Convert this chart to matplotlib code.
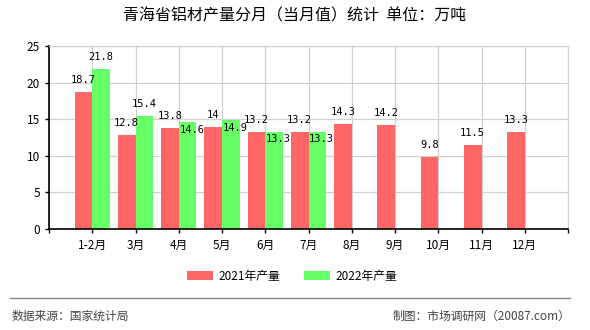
import matplotlib.pyplot as plt
import numpy as np
from matplotlib.lines import Line2D

plt.rcParams['font.family'] = ['Noto Sans CJK SC', 'DejaVu Sans']

months = ["1-2月", "3月", "4月", "5月", "6月", "7月", "8月", "9月", "10月", "11月", "12月"]
output_2021 = [18.7, 12.8, 13.8, 14, 13.2, 13.2, 14.3, 14.2, 9.8, 11.5, 13.3]
output_2022 = [21.8, 15.4, 14.6, 14.9, 13.3, 13.3]
# 2022 labels that sit inside the bar top in the original
inside_2022 = [False, False, True, True, True, True]

red = "#ff6666"
green = "#66ff66"

fig = plt.figure(figsize=(5.9, 3.3), dpi=100)
ax = fig.add_axes([49 / 590, 101 / 330, 519 / 590, 183 / 330])

x = np.arange(1, len(months) + 1)
w = 0.41
ax.bar(x - w / 2, output_2021, w, color=red, label="2021年产量", zorder=2)
x22 = x[:len(output_2022)]
ax.bar(x22 + w / 2, output_2022, w, color=green, label="2022年产量", zorder=2)

lbl = dict(fontsize=7.5, family=['DejaVu Sans Mono', 'DejaVu Sans'], ha='center', zorder=3)
for xi, v in zip(x, output_2021):
    ax.annotate(f"{v:g}", (xi - w / 2, v), xytext=(0, 5), textcoords='offset points', va='bottom', **lbl)
for xi, v, ins in zip(x22, output_2022, inside_2022):
    if ins:
        ax.annotate(f"{v:g}", (xi + w / 2, v), xytext=(3, -2), textcoords='offset points', va='top', **lbl)
    else:
        ax.annotate(f"{v:g}", (xi + w / 2, v), xytext=(0, 5), textcoords='offset points', va='bottom', **lbl)

ax.set_xlim(0, 12)
ax.set_ylim(0, 25)
ax.set_yticks(np.arange(0, 26, 5))
ax.set_xticks(np.arange(0, 13))
ax.set_xticklabels([""] + months + [""])
ax.tick_params(labelsize=8.5, length=3, width=1, colors='black')
ax.tick_params(axis='x', pad=4)
ax.grid(True, color='#d0d0d0', linewidth=0.9, zorder=0)
for s in ['top', 'right']:
    ax.spines[s].set_color('#d0d0d0')
for s in ['left', 'bottom']:
    ax.spines[s].set_linewidth(1.2)
ax.set_axisbelow(True)

fig.text(0.5, 0.952, "青海省铝材产量分月（当月值）统计  单位：万吨", ha='center', va='center', fontsize=11.5)

fig.legend(loc='center', bbox_to_anchor=(0.495, 0.163), ncol=2, frameon=False, fontsize=8.5,
           handlelength=2.2, handleheight=0.8, columnspacing=2.0, handletextpad=0.5)

fig.add_artist(Line2D([10 / 590, 570 / 590], [32 / 330, 32 / 330], color='#888888', linewidth=1))
fig.text(12 / 590, 14 / 330, "数据来源：国家统计局", ha='left', va='center', fontsize=8.5, color='#444444')
fig.text(570 / 590, 14 / 330, "制图：市场调研网（20087.com）", ha='right', va='center', fontsize=8.5, color='#444444')

fig.savefig("out.png", dpi=100)
